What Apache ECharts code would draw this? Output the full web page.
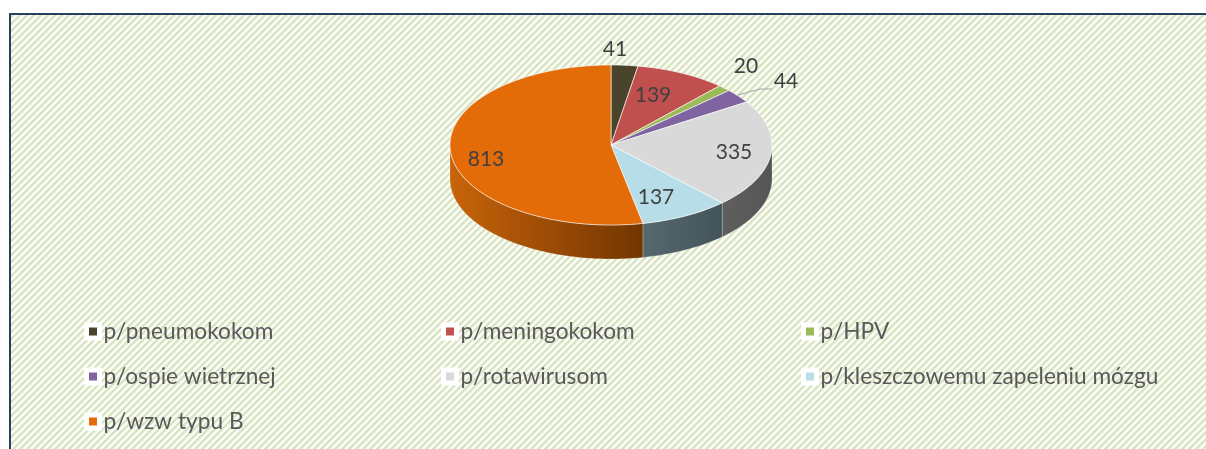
<!DOCTYPE html>
<html><head><meta charset="utf-8">
<script src="https://cdn.jsdelivr.net/npm/echarts@6/dist/echarts.min.js"></script>
<style>
html,body{margin:0;padding:0;background:#fff;overflow:hidden}
#frame{position:absolute;left:9px;top:13px;width:1300px;height:500px;border:2px solid #26405e}
#c{position:absolute;left:0;top:0;width:1206px;height:449px}
</style></head><body>
<div id="frame"></div><div id="c"></div>
<script>
const categories=['p/pneumokokom','p/meningokokom','p/HPV','p/ospie wietrznej','p/rotawirusom','p/kleszczowemu zapeleniu mózgu','p/wzw typu B'];
const values=[41,139,20,44,335,137,813];
const colors=['#4a452a','#c0504d','#9bbb59','#8064a2','#d9d9d9','#b7dde8','#e36c09'];
const wallColors=[null,null,null,null,['#5f5f5f','#555555'],['#56696f','#43535a'],['#c8640a','#723500']];
const labelAt=[[615,49],[653,95],[746,66],[786,81],[734,152],[656,197],[486,159]];
const legendColumns=[[0,3,6],[1,4],[2,5]];
const legendLeft=[79,436,796];

// hard-edged diagonal hatch tile for the chart area
const tile=document.createElement('canvas');tile.width=7;tile.height=7;
const tc=tile.getContext('2d');
for(let y=0;y<7;y++)for(let x=0;x<7;x++){
  tc.fillStyle=((x+y)%7)<3?'#d9e5c2':(((x+y)%7)===3?'#edf3e1':'#fcfdf8');
  tc.fillRect(x,y,1,1);
}
document.getElementById('frame').style.backgroundImage='url('+tile.toDataURL()+')';

const cx=611,cy=145,rx=161,ry=80,depth=34;
const total=values.reduce((a,b)=>a+b,0);
const pt=(deg,dy)=>{const r=deg*Math.PI/180;return [cx+rx*Math.sin(r),cy-ry*Math.cos(r)+(dy||0)];};
function arc(a,b,dy){const p=[];const n=Math.max(2,Math.ceil(b-a));for(let i=0;i<=n;i++)p.push(pt(a+(b-a)*i/n,dy));return p;}

function renderItem(params,api){
  const i=params.seriesIndex, v=api.value(0);
  let before=0;for(let k=0;k<i;k++)before+=values[k];
  const a=before/total*360,b=(before+v)/total*360;
  const children=[];
  const wa=Math.max(a,90),wb=Math.min(b,270);
  if(wb>wa&&wallColors[i]){
    const top=arc(wa,wb,0),bot=arc(wa,wb,depth).reverse();
    const xs=top.map(p=>p[0]);
    children.push({type:'polygon',shape:{points:top.concat(bot)},style:{
      fill:new echarts.graphic.LinearGradient(Math.min(...xs),0,Math.max(...xs),0,
        [{offset:0,color:wallColors[i][0]},{offset:1,color:wallColors[i][1]}],true),
      stroke:'rgba(255,255,255,0.35)',lineWidth:0.6}});
  }
  children.push({type:'polygon',shape:{points:[[cx,cy]].concat(arc(a,b,0))},
    style:{fill:colors[i],stroke:'rgba(255,255,255,0.75)',lineWidth:0.8}});
  if(i===3){
    children.push({type:'polyline',shape:{points:[[738,95],[760,89],[772,89]]},
      style:{stroke:'#a6a6a6',lineWidth:1.2,fill:null}});
  }
  children.push({type:'text',x:labelAt[i][0],y:labelAt[i][1],z2:50,
    style:{text:String(v),fill:'#404040',font:'21px Lato',align:'center',verticalAlign:'middle'}});
  return {type:'group',children};
}

const chart=echarts.init(document.getElementById('c'),null,{renderer:'canvas'});
chart.setOption({
  animation:false,
  backgroundColor:'transparent',
  legend:legendColumns.map((col,c)=>({
    orient:'vertical',left:legendLeft[c],top:315,itemGap:22,itemWidth:13,itemHeight:13,
    icon:'rect',selectedMode:false,
    textStyle:{fontFamily:'Lato',fontSize:22.7,color:'#595959',padding:[0,0,0,-1]},
    data:col.map(i=>({name:categories[i],icon:'rect',
      itemStyle:{color:colors[i],borderColor:'#ffffff',borderWidth:5}}))
  })),
  series:categories.map((name,i)=>({
    type:'custom',name,coordinateSystem:'none',silent:true,
    itemStyle:{color:colors[i]},
    data:[[values[i]]],
    renderItem
  }))
});
</script></body></html>
